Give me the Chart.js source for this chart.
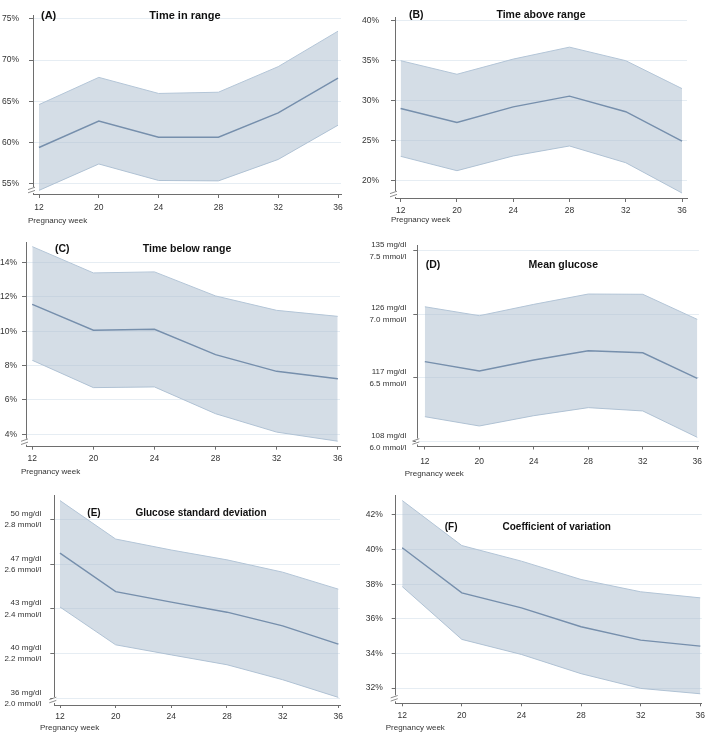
<!DOCTYPE html>
<html>
<head>
<meta charset="utf-8">
<script src="https://cdn.jsdelivr.net/npm/chart.js@4.4.1/dist/chart.umd.min.js"></script>
<style>
  html, body { margin: 0; padding: 0; background: #fff; }
  #wrap { position: relative; width: 709px; height: 733px; overflow: hidden; }
  #wrap canvas { position: absolute; left: 0; top: 0; }
</style>
</head>
<body>
<div id="wrap">
  <canvas id="chartA" width="709" height="733"></canvas>
  <canvas id="chartB" width="709" height="733"></canvas>
  <canvas id="chartC" width="709" height="733"></canvas>
  <canvas id="chartD" width="709" height="733"></canvas>
  <canvas id="chartE" width="709" height="733"></canvas>
  <canvas id="chartF" width="709" height="733"></canvas>
</div>
<script>
// pregnancy weeks (equally spaced on the axis)
const weeks = [12, 20, 24, 28, 32, 36];

// (A) Time in range, %
const tirMean  = [59.4, 62.6, 60.65, 60.65, 63.6, 67.8];
const tirUpper = [64.6, 67.9, 65.95, 66.1, 69.2, 73.5];
const tirLower = [54.2, 57.4, 55.4, 55.35, 57.95, 62.1];
const tirTicks = [55, 60, 65, 70, 75];

// (B) Time above range, %
const tarMean  = [29.0, 27.25, 29.2, 30.55, 28.6, 24.9];
const tarUpper = [35.0, 33.3, 35.2, 36.7, 35.0, 31.5];
const tarLower = [23.0, 21.2, 23.05, 24.3, 22.2, 18.4];
const tarTicks = [20, 25, 30, 35, 40];

// (C) Time below range, %
const tbrMean  = [11.57, 10.06, 10.12, 8.64, 7.67, 7.24];
const tbrUpper = [14.93, 13.4, 13.46, 12.06, 11.22, 10.87];
const tbrLower = [8.31, 6.72, 6.76, 5.2, 4.13, 3.6];
const tbrTicks = [4, 6, 8, 10, 12, 14];

// (D) Mean glucose, mmol/l
const mgMean  = [6.626, 6.553, 6.639, 6.712, 6.696, 6.495];
const mgUpper = [7.057, 6.987, 7.076, 7.157, 7.155, 6.958];
const mgLower = [6.194, 6.121, 6.202, 6.265, 6.239, 6.032];
const mgTicksMmol = [6.0, 6.5, 7.0, 7.5];
const mgTicksMgdl = [108, 117, 126, 135];

// (E) Glucose standard deviation, mmol/l
const sdMean  = [2.649, 2.477, 2.43, 2.385, 2.324, 2.242];
const sdUpper = [2.884, 2.712, 2.663, 2.619, 2.564, 2.488];
const sdLower = [2.408, 2.239, 2.194, 2.15, 2.083, 2.004];
const sdTicksMmol = [2.0, 2.2, 2.4, 2.6, 2.8];
const sdTicksMgdl = [36, 40, 43, 47, 50];

// (F) Coefficient of variation, %
const cvMean  = [40.1, 37.5, 36.63, 35.54, 34.77, 34.42];
const cvUpper = [42.83, 40.23, 39.33, 38.27, 37.56, 37.21];
const cvLower = [37.86, 34.81, 33.94, 32.83, 31.98, 31.67];
const cvTicks = [32, 34, 36, 38, 40, 42];

const FONT = '"Liberation Sans", Arial, sans-serif';
const W = 709, H = 733;
const bandFill = 'rgba(170, 188, 206, 0.5)';
const bandEdge = '#b3c5d7';
const meanColor = '#42628b';
const axisColor = '#6e6e6e';

// titles, panel letters, axis break and "Pregnancy week"
const panelDeco = {
    id: 'panelDeco',
    afterDraw(chart, args, o) {
        const { ctx, chartArea: a } = chart;
        ctx.save();
        // axis break mark
        const by = a.bottom - 5;
        ctx.fillStyle = '#fff';
        ctx.fillRect(a.left - 1.5, by - 3, 3, 6);
        ctx.strokeStyle = axisColor;
        ctx.lineWidth = 0.8;
        ctx.beginPath();
        [-1.6, 1.6].forEach(d => {
            ctx.moveTo(a.left - 5, by + d + 1.2);
            ctx.lineTo(a.left + 2, by + d - 1.2);
        });
        ctx.stroke();
        // panel letter and title
        ctx.fillStyle = '#111';
        ctx.textBaseline = 'middle';
        ctx.font = 'bold ' + o.titleSize + 'px ' + FONT;
        ctx.textAlign = 'left';
        ctx.fillText(o.letter, o.letterX, o.titleY);
        ctx.textAlign = 'center';
        ctx.fillText(o.title, o.titleX, o.titleY);
        // x axis caption
        ctx.fillStyle = '#333';
        ctx.font = '8px ' + FONT;
        ctx.textAlign = 'left';
        ctx.fillText('Pregnancy week', o.capX, o.capY);
        ctx.restore();
    }
};

function pts(arr) {
    return arr.map((v, i) => ({ x: i, y: v }));
}

function makePanel(id, p) {
    const a = p.area;
    const xStep = (p.x36 - p.x12) / 5;
    new Chart(document.getElementById(id), {
        type: 'line',
        data: {
            datasets: [
                { data: pts(p.upper), borderColor: bandEdge, borderWidth: 1, backgroundColor: bandFill, fill: '+1', pointRadius: 0 },
                { data: pts(p.lower), borderColor: bandEdge, borderWidth: 1, fill: false, pointRadius: 0 },
                { data: pts(p.mean), borderColor: meanColor, borderWidth: 1.4, fill: false, pointRadius: 0 }
            ]
        },
        options: {
            responsive: false,
            animation: false,
            events: [],
            layout: { padding: { left: 0, top: a.t, right: W - a.r, bottom: 0 } },
            plugins: {
                legend: { display: false },
                tooltip: { enabled: false },
                panelDeco: p.deco
            },
            scales: {
                x: {
                    type: 'linear',
                    min: (a.l - p.x12) / xStep,
                    max: (a.r - p.x12) / xStep,
                    afterBuildTicks: s => { s.ticks = weeks.map((w, i) => ({ value: i })); },
                    afterFit: s => { s.height = H - a.b; },
                    ticks: {
                        callback: v => weeks[v],
                        font: { family: FONT, size: 8.5 },
                        color: '#333',
                        padding: p.xPad,
                        maxRotation: 0,
                        autoSkip: false
                    },
                    grid: { drawOnChartArea: false, tickLength: 3, tickColor: axisColor },
                    border: { color: axisColor, width: 1 }
                },
                y: {
                    type: 'linear',
                    min: p.yMin,
                    max: p.yMax,
                    afterBuildTicks: s => { s.ticks = p.ticks.map(v => ({ value: v })); },
                    afterFit: s => { s.width = a.l; },
                    ticks: {
                        callback: p.label,
                        font: { family: FONT, size: p.ySize || 8.5, lineHeight: p.yLine || 1.2 },
                        color: '#333',
                        padding: p.yPad
                    },
                    grid: { color: '#e6edf3', tickLength: 4, tickColor: axisColor },
                    border: { color: axisColor, width: 1 }
                }
            }
        },
        plugins: [panelDeco]
    });
}

const pct = v => v + '%';
const mgLabel = (ticksMmol, ticksMgdl) => v => {
    const i = ticksMmol.indexOf(v);
    return [ticksMgdl[i] + ' mg/dl', v.toFixed(1) + ' mmol/l'];
};

makePanel('chartA', {
    mean: tirMean, upper: tirUpper, lower: tirLower, ticks: tirTicks, label: pct,
    area: { l: 33, r: 341, t: 3, b: 195 }, x12: 39, x36: 338,
    yMin: 53.64, yMax: 75.45, yPad: 10, xPad: 5,
    deco: { letter: '(A)', title: 'Time in range', titleSize: 11, letterX: 41, titleX: 185, titleY: 16, capX: 28, capY: 221 }
});

makePanel('chartB', {
    mean: tarMean, upper: tarUpper, lower: tarLower, ticks: tarTicks, label: pct,
    area: { l: 395, r: 687, t: 5, b: 199 }, x12: 400.7, x36: 682,
    yMin: 17.65, yMax: 40.47, yPad: 12, xPad: 4,
    deco: { letter: '(B)', title: 'Time above range', titleSize: 10.5, letterX: 409, titleX: 541, titleY: 15, capX: 391, capY: 220 }
});

makePanel('chartC', {
    mean: tbrMean, upper: tbrUpper, lower: tbrLower, ticks: tbrTicks, label: pct,
    area: { l: 26, r: 340, t: 242, b: 446.7 }, x12: 32.3, x36: 337.7,
    yMin: 3.28, yMax: 15.2, yPad: 5, xPad: 4,
    deco: { letter: '(C)', title: 'Time below range', titleSize: 10.5, letterX: 55, titleX: 187, titleY: 249, capX: 21, capY: 471.5 }
});

makePanel('chartD', {
    mean: mgMean, upper: mgUpper, lower: mgLower, ticks: mgTicksMmol, label: mgLabel(mgTicksMmol, mgTicksMgdl),
    area: { l: 417.3, r: 704, t: 245, b: 446.5 }, x12: 425, x36: 702.3,
    yMin: 5.96, yMax: 7.542, yPad: 7, xPad: 7, ySize: 8, yLine: 1.5,
    deco: { letter: '(D)', title: 'Mean glucose', titleSize: 10.5, letterX: 425.7, titleX: 563.3, titleY: 265, capX: 404.7, capY: 474 }
});

makePanel('chartE', {
    mean: sdMean, upper: sdUpper, lower: sdLower, ticks: sdTicksMmol, label: mgLabel(sdTicksMmol, sdTicksMgdl),
    area: { l: 54.3, r: 340, t: 495, b: 705 }, x12: 60, x36: 338.3,
    yMin: 1.97, yMax: 2.909, yPad: 9, xPad: 4, ySize: 8, yLine: 1.4,
    deco: { letter: '(E)', title: 'Glucose standard deviation', titleSize: 10, letterX: 87.3, titleX: 201, titleY: 513.3, capX: 40, capY: 728 }
});

makePanel('chartF', {
    mean: cvMean, upper: cvUpper, lower: cvLower, ticks: cvTicks, label: pct,
    area: { l: 395.7, r: 704.5, t: 495, b: 703.3 }, x12: 402.3, x36: 703,
    yMin: 31.12, yMax: 43.15, yPad: 9, xPad: 4,
    deco: { letter: '(F)', title: 'Coefficient of variation', titleSize: 10, letterX: 444.7, titleX: 556.7, titleY: 527, capX: 385.7, capY: 727.5 }
});
</script>
</body>
</html>
